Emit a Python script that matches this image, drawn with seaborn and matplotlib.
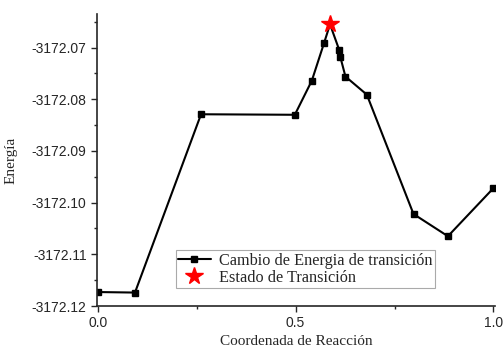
import numpy as np
import pandas as pd
import matplotlib
matplotlib.use("Agg")
import matplotlib.pyplot as plt
import seaborn as sns
from matplotlib.ticker import MultipleLocator

# Datos
coord = [0.0, 0.094, 0.261, 0.498, 0.541, 0.572, 0.587, 0.610, 0.613, 0.626, 0.680, 0.798, 0.885, 1.0]
energia = [-3172.1173, -3172.1174, -3172.0829, -3172.0830, -3172.0764, -3172.0691, -3172.0655,
           -3172.0704, -3172.0718, -3172.0756, -3172.0791, -3172.1022, -3172.1065, -3172.0972]
ts_coord = [0.587]
ts_energia = [-3172.0655]

df = pd.DataFrame({'coord': coord, 'energia': energia})
# el punto de transición no lleva cuadrado
sq = df.drop(index=6)

sns.set_style("ticks")
plt.rcParams['font.family'] = ['Liberation Sans', 'DejaVu Sans']

fig = plt.figure(figsize=(5.04, 3.51), dpi=100)
ax = fig.add_axes([97 / 504, 1 - 306 / 351, (495 - 97) / 504, 292 / 351])

sns.lineplot(data=df, x='coord', y='energia', color='black', linewidth=1.5, ax=ax,
             sort=False, estimator=None)
ax.plot(sq['coord'], sq['energia'], 's', color='black', markersize=5)
# entrada de leyenda
ax.plot([], [], '-s', color='black', markersize=5, linewidth=1.5,
        label='Cambio de Energia de transición')
ax.plot(ts_coord, ts_energia, '*', color='red', markersize=13, label='Estado de Transición')

ax.set_xlim(-0.002, 1.004)
ax.set_ylim(-3172.12, -3172.0635)
ax.xaxis.set_major_locator(MultipleLocator(0.5))
ax.xaxis.set_minor_locator(MultipleLocator(0.25))
ax.yaxis.set_major_locator(MultipleLocator(0.01))
ax.yaxis.set_minor_locator(MultipleLocator(0.005))
ax.xaxis.set_major_formatter(plt.FuncFormatter(lambda v, p: f"{v:.1f}"))
ax.yaxis.set_major_formatter(plt.FuncFormatter(lambda v, p: f"{v:.2f}"))
ax.tick_params(axis='both', which='major', direction='out', length=4, width=1, labelsize=10)
ax.tick_params(axis='both', which='minor', direction='out', length=2.5, width=1)

for s in ['left', 'bottom']:
    ax.spines[s].set_linewidth(1.2)
sns.despine(ax=ax)

ax.set_xlabel('Coordenada de Reacción', family='Liberation Serif', fontsize=11, labelpad=3)
ax.set_ylabel('Energía', family='Liberation Serif', fontsize=11, labelpad=10)

leg = ax.legend(loc='lower left', bbox_to_anchor=(0.198, 0.06), prop={'family': 'Liberation Serif', 'size': 11.7},
                frameon=True, fancybox=False, edgecolor='#aaaaaa', framealpha=1,
                borderpad=0.15, handlelength=2.0, handletextpad=0.5, labelspacing=0.08, borderaxespad=0)
leg.get_frame().set_linewidth(0.8)

fig.savefig('out.png', dpi=100)
